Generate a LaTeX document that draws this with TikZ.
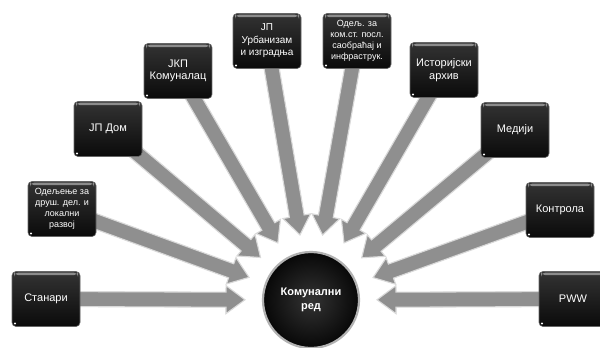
\documentclass[tikz,border=0pt]{standalone}
\usepackage{fontspec}
\setmainfont{Liberation Sans}
\usetikzlibrary{calc}
\pgfdeclarelayer{bg}
\pgfsetlayers{bg,main}
\tikzset{
  box/.style={rounded corners=4pt, top color=black!80, bottom color=black!96,
    draw=black!60, line width=0.6pt, minimum width=68pt, minimum height=55pt,
    text=white, align=center, inner sep=2pt, font=\fontsize{11}{12.5}\selectfont,
    path picture={
      \fill[black!45] ([xshift=2pt,yshift=-1.2pt]path picture bounding box.north west)
        rectangle ([xshift=-2pt,yshift=-3.6pt]path picture bounding box.north east);
      \fill[white] ([xshift=3pt,yshift=3pt]path picture bounding box.south west) circle (1.1pt);
    }},
  smallbox/.style={box, font=\fontsize{9}{11}\selectfont},
  midbox/.style={box, font=\fontsize{10}{12.5}\selectfont},
  hub/.style={circle, minimum size=96pt, inner sep=0pt, inner color=black!80, outer color=black!97,
    draw=black!30, line width=2.2pt, text=white, align=center,
    font=\bfseries\fontsize{11}{14}\selectfont},
  arrowfill/.style={fill=black!44, draw=black!15, line width=1.1pt, line join=miter},
}
\begin{document}
\begin{tikzpicture}[x=1pt,y=-1pt]
\useasboundingbox (0,0) rectangle (600,348);
\begin{pgfonlayer}{bg}
\fill[white] (0,0) rectangle (600,348);
\end{pgfonlayer}

\node[hub] (c) at (311,300) {Комунални\\ред};

\node[box] (b1) at (46,299) {Станари};
\node[smallbox] (b2) at (62,209) {Одељење за\\друш. дел. и\\локални\\развој};
\node[box] (b3) at (108,129) {ЈП Дом};
\node[box] (b4) at (178,71) {ЈКП\\Комуналац};
\node[midbox] (b5) at (267,41) {ЈП\\Урбанизам\\и изградња};
\node[smallbox] (b6) at (357,41) {Одељ. за\\ком.ст. посл.\\саобраћај и\\инфраструк.};
\node[box] (b7) at (444,70) {Историјски\\архив};
\node[box] (b8) at (515,130) {Медији};
\node[box] (b9) at (560,210) {Контрола};
\node[box] (b10) at (573,299) {PWW};

\foreach \i in {1,...,10}{
  \coordinate (t\i) at ($(c.center)!66pt!(b\i.center)$);
  \coordinate (h\i) at ($(t\i)!19pt!(b\i.center)$);
  \begin{pgfonlayer}{bg}
  \filldraw[arrowfill]
    ($(b\i.center)!7.5pt!90:(t\i)$) -- ($(h\i)!7.5pt!-90:(b\i.center)$)
    -- ($(h\i)!14pt!-90:(b\i.center)$) -- (t\i)
    -- ($(h\i)!14pt!90:(b\i.center)$) -- ($(h\i)!7.5pt!90:(b\i.center)$)
    -- ($(b\i.center)!7.5pt!-90:(t\i)$) -- cycle;
  \end{pgfonlayer}
}
\end{tikzpicture}
\end{document}
